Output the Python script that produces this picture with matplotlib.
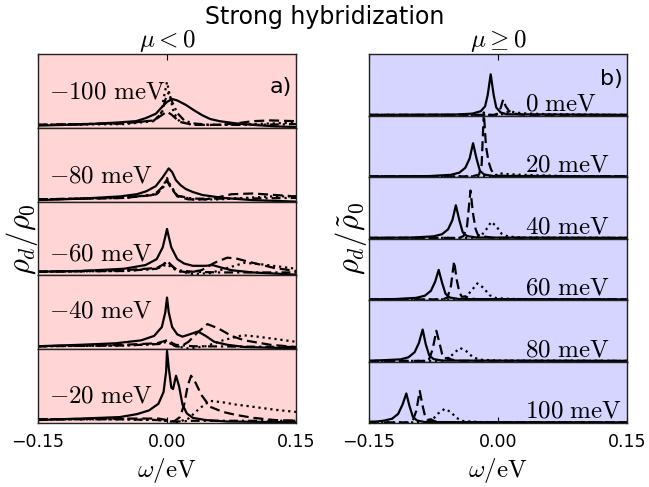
import numpy as np
import matplotlib
matplotlib.use('Agg')
import matplotlib.pyplot as plt

plt.rcParams['mathtext.fontset'] = 'cm'

# detuning of each stacked curve (meV)
neg_levels = [-100, -80, -60, -40, -20]
pos_levels = [0, 20, 40, 60, 80, 100]
x_ticks = [-0.15, 0.0, 0.15]
x_ticklabels = ['\u22120.15', '0.00', '0.15']

# points (omega in eV, rho_d/rho_0 scaled to row height)
neg_solid = [
    [(-0.15, 0.03), (-0.10, 0.045), (-0.06, 0.07), (-0.036, 0.09), (-0.025, 0.13), (-0.013, 0.19),
     (-0.006, 0.28), (0.0, 0.35), (0.006, 0.39), (0.012, 0.37), (0.022, 0.31), (0.031, 0.24),
     (0.041, 0.17), (0.05, 0.12), (0.061, 0.09), (0.08, 0.06), (0.10, 0.04), (0.125, 0.02), (0.15, 0.01)],
    [(-0.15, 0.02), (-0.10, 0.04), (-0.055, 0.07), (-0.035, 0.10), (-0.024, 0.14), (-0.013, 0.21),
     (-0.005, 0.33), (0.002, 0.45), (0.006, 0.40), (0.0104, 0.29), (0.016, 0.22), (0.022, 0.17),
     (0.03, 0.13), (0.041, 0.09), (0.065, 0.05), (0.10, 0.02), (0.15, 0.0)],
    [(-0.15, 0.05), (-0.10, 0.06), (-0.05, 0.09), (-0.025, 0.14), (-0.012, 0.22), (-0.005, 0.38),
     (-0.0015, 0.55), (0.0, 0.63), (0.0015, 0.55), (0.005, 0.38), (0.012, 0.22), (0.02, 0.16),
     (0.03, 0.13), (0.045, 0.13), (0.053, 0.14), (0.062, 0.11), (0.075, 0.07), (0.10, 0.04), (0.15, 0.01)],
    [(-0.15, 0.04), (-0.10, 0.06), (-0.06, 0.08), (-0.03, 0.12), (-0.015, 0.18), (-0.006, 0.30),
     (-0.002, 0.50), (0.0, 0.70), (0.002, 0.50), (0.006, 0.30), (0.012, 0.20), (0.018, 0.17),
     (0.026, 0.20), (0.036, 0.24), (0.045, 0.18), (0.055, 0.10), (0.07, 0.06), (0.09, 0.03), (0.15, 0.01)],
    [(-0.15, 0.04), (-0.10, 0.06), (-0.055, 0.08), (-0.035, 0.12), (-0.021, 0.17), (-0.01, 0.26),
     (-0.004, 0.42), (-0.001, 0.70), (0.0, 0.98), (0.002, 0.75), (0.005, 0.48), (0.007, 0.46),
     (0.0105, 0.64), (0.014, 0.50), (0.018, 0.25), (0.023, 0.13), (0.03, 0.07), (0.045, 0.04),
     (0.07, 0.02), (0.15, 0.01)],
]
neg_dashed = [
    [(-0.15, 0.04), (-0.05, 0.06), (-0.015, 0.10), (-0.005, 0.18), (0.0, 0.22), (0.005, 0.18),
     (0.015, 0.08), (0.03, 0.04), (0.06, 0.04), (0.08, 0.06), (0.10, 0.09), (0.12, 0.10), (0.15, 0.09)],
    [(-0.15, 0.03), (-0.05, 0.05), (-0.015, 0.09), (-0.005, 0.20), (0.0, 0.30), (0.004, 0.20),
     (0.012, 0.07), (0.025, 0.03), (0.045, 0.03), (0.06, 0.06), (0.075, 0.10), (0.10, 0.11),
     (0.125, 0.09), (0.15, 0.07)],
    [(-0.15, 0.05), (-0.05, 0.07), (-0.012, 0.10), (-0.004, 0.15), (0.0, 0.20), (0.004, 0.15),
     (0.012, 0.06), (0.025, 0.04), (0.04, 0.07), (0.055, 0.17), (0.07, 0.24), (0.08, 0.23),
     (0.10, 0.17), (0.125, 0.10), (0.15, 0.06)],
    [(-0.15, 0.04), (-0.05, 0.06), (-0.012, 0.08), (0.0, 0.12), (0.008, 0.05), (0.015, 0.03),
     (0.025, 0.10), (0.035, 0.22), (0.047, 0.34), (0.06, 0.28), (0.075, 0.18), (0.09, 0.12),
     (0.12, 0.06), (0.15, 0.03)],
    [(-0.15, 0.05), (-0.05, 0.06), (-0.01, 0.06), (0.0, 0.04), (0.008, 0.02), (0.015, 0.08),
     (0.02, 0.25), (0.024, 0.50), (0.028, 0.64), (0.033, 0.55), (0.04, 0.38), (0.05, 0.22),
     (0.065, 0.15), (0.08, 0.11), (0.10, 0.07), (0.125, 0.04), (0.15, 0.03)],
]
neg_dotted = [
    [(-0.15, 0.04), (-0.05, 0.05), (-0.015, 0.09), (-0.007, 0.20), (-0.003, 0.45), (0.0, 0.62),
     (0.003, 0.45), (0.008, 0.20), (0.015, 0.08), (0.03, 0.04), (0.06, 0.04), (0.10, 0.05), (0.15, 0.07)],
    [(-0.15, 0.03), (-0.05, 0.05), (-0.012, 0.10), (-0.004, 0.22), (0.0, 0.32), (0.004, 0.22),
     (0.012, 0.08), (0.03, 0.03), (0.06, 0.03), (0.09, 0.05), (0.12, 0.07), (0.15, 0.07)],
    [(-0.15, 0.05), (-0.05, 0.06), (-0.012, 0.09), (0.0, 0.15), (0.012, 0.06), (0.03, 0.02),
     (0.05, 0.03), (0.07, 0.10), (0.09, 0.17), (0.11, 0.15), (0.13, 0.12), (0.15, 0.09)],
    [(-0.15, 0.04), (-0.05, 0.05), (-0.01, 0.07), (0.0, 0.10), (0.01, 0.04), (0.025, 0.01),
     (0.045, 0.04), (0.065, 0.12), (0.088, 0.19), (0.105, 0.17), (0.125, 0.14), (0.15, 0.10)],
    [(-0.15, 0.05), (-0.05, 0.05), (-0.01, 0.04), (0.005, 0.02), (0.012, 0.01), (0.025, 0.06),
     (0.038, 0.20), (0.05, 0.30), (0.065, 0.28), (0.08, 0.25), (0.10, 0.22), (0.125, 0.18), (0.15, 0.15)],
]
neg_dashdot = [
    [(-0.15, 0.04), (-0.05, 0.06), (-0.015, 0.10), (-0.006, 0.20), (-0.002, 0.38), (0.002, 0.48),
     (0.006, 0.35), (0.012, 0.20), (0.02, 0.10), (0.03, 0.06), (0.05, 0.04), (0.10, 0.04), (0.15, 0.05)],
    [(-0.15, 0.03), (-0.05, 0.05), (-0.012, 0.10), (-0.004, 0.20), (0.0, 0.28), (0.004, 0.20),
     (0.012, 0.08), (0.03, 0.04), (0.08, 0.04), (0.15, 0.05)],
    [(-0.15, 0.05), (-0.05, 0.06), (-0.012, 0.09), (0.0, 0.18), (0.012, 0.07), (0.03, 0.05),
     (0.06, 0.04), (0.15, 0.04)],
    [(-0.15, 0.04), (-0.05, 0.05), (-0.01, 0.07), (0.0, 0.12), (0.01, 0.06), (0.03, 0.04), (0.15, 0.03)],
    [(-0.15, 0.05), (-0.05, 0.05), (-0.01, 0.04), (0.0, 0.03), (0.01, 0.02), (0.03, 0.03), (0.15, 0.03)],
]

pos_solid = [
    [(-0.15, 0.01), (-0.05, 0.015), (-0.03, 0.03), (-0.02, 0.07), (-0.015, 0.15), (-0.012, 0.33),
     (-0.0085, 0.67), (-0.005, 0.33), (-0.002, 0.13), (0.003, 0.05), (0.01, 0.02), (0.15, 0.01)],
    [(-0.15, 0.01), (-0.08, 0.015), (-0.055, 0.035), (-0.045, 0.07), (-0.038, 0.15), (-0.033, 0.30),
     (-0.029, 0.55), (-0.025, 0.30), (-0.021, 0.10), (-0.016, 0.04), (-0.005, 0.015), (0.15, 0.01)],
    [(-0.15, 0.01), (-0.10, 0.015), (-0.075, 0.035), (-0.065, 0.07), (-0.058, 0.15), (-0.053, 0.30),
     (-0.049, 0.54), (-0.045, 0.30), (-0.041, 0.10), (-0.036, 0.04), (-0.025, 0.015), (0.15, 0.01)],
    [(-0.15, 0.01), (-0.12, 0.015), (-0.095, 0.035), (-0.085, 0.07), (-0.078, 0.15), (-0.073, 0.30),
     (-0.069, 0.49), (-0.065, 0.28), (-0.061, 0.10), (-0.056, 0.04), (-0.045, 0.015), (0.15, 0.01)],
    [(-0.15, 0.01), (-0.135, 0.02), (-0.113, 0.035), (-0.104, 0.07), (-0.097, 0.15), (-0.092, 0.30),
     (-0.0876, 0.52), (-0.084, 0.28), (-0.08, 0.10), (-0.075, 0.04), (-0.065, 0.015), (0.15, 0.01)],
    [(-0.15, 0.02), (-0.14, 0.025), (-0.132, 0.04), (-0.123, 0.07), (-0.116, 0.15), (-0.111, 0.30),
     (-0.1066, 0.48), (-0.103, 0.28), (-0.099, 0.10), (-0.094, 0.04), (-0.085, 0.015), (0.15, 0.01)],
]
pos_dashed = [
    [(-0.15, 0.01), (-0.005, 0.01), (0.0, 0.03), (0.003, 0.12), (0.006, 0.26), (0.009, 0.15),
     (0.013, 0.07), (0.02, 0.03), (0.03, 0.01), (0.15, 0.01)],
    [(-0.15, 0.01), (-0.03, 0.01), (-0.022, 0.04), (-0.019, 0.20), (-0.0165, 1.05), (-0.014, 0.50),
     (-0.011, 0.25), (-0.008, 0.12), (-0.005, 0.05), (0.0, 0.02), (0.15, 0.01)],
    [(-0.15, 0.01), (-0.045, 0.01), (-0.04, 0.04), (-0.036, 0.20), (-0.032, 0.78), (-0.029, 0.40),
     (-0.026, 0.15), (-0.023, 0.05), (-0.019, 0.06), (-0.015, 0.03), (-0.005, 0.01), (0.15, 0.01)],
    [(-0.15, 0.01), (-0.064, 0.01), (-0.059, 0.04), (-0.055, 0.20), (-0.051, 0.63), (-0.048, 0.33),
     (-0.045, 0.13), (-0.042, 0.05), (-0.038, 0.06), (-0.034, 0.03), (-0.024, 0.01), (0.15, 0.01)],
    [(-0.15, 0.01), (-0.085, 0.01), (-0.08, 0.04), (-0.076, 0.20), (-0.0717, 0.50), (-0.068, 0.30),
     (-0.065, 0.12), (-0.062, 0.05), (-0.058, 0.06), (-0.054, 0.03), (-0.044, 0.01), (0.15, 0.01)],
    [(-0.15, 0.01), (-0.104, 0.01), (-0.099, 0.04), (-0.095, 0.20), (-0.091, 0.52), (-0.088, 0.30),
     (-0.085, 0.12), (-0.082, 0.05), (-0.078, 0.06), (-0.074, 0.03), (-0.064, 0.01), (0.15, 0.01)],
]
pos_dotted = [
    [(-0.15, 0.01), (0.0, 0.01), (0.008, 0.03), (0.013, 0.07), (0.02, 0.05), (0.03, 0.035),
     (0.05, 0.025), (0.10, 0.015), (0.15, 0.01)],
    [(-0.15, 0.01), (-0.01, 0.01), (-0.003, 0.03), (0.002, 0.06), (0.008, 0.05), (0.02, 0.04),
     (0.04, 0.03), (0.08, 0.015), (0.15, 0.01)],
    [(-0.15, 0.01), (-0.03, 0.01), (-0.02, 0.04), (-0.014, 0.14), (-0.008, 0.27), (-0.002, 0.20),
     (0.004, 0.08), (0.012, 0.03), (0.03, 0.015), (0.15, 0.01)],
    [(-0.15, 0.01), (-0.045, 0.01), (-0.038, 0.04), (-0.031, 0.15), (-0.024, 0.27), (-0.017, 0.20),
     (-0.01, 0.08), (-0.002, 0.03), (0.02, 0.015), (0.15, 0.01)],
    [(-0.15, 0.01), (-0.065, 0.01), (-0.058, 0.04), (-0.051, 0.14), (-0.044, 0.22), (-0.037, 0.17),
     (-0.03, 0.08), (-0.022, 0.03), (0.0, 0.015), (0.15, 0.01)],
    [(-0.15, 0.01), (-0.084, 0.01), (-0.077, 0.04), (-0.07, 0.15), (-0.062, 0.23), (-0.055, 0.18),
     (-0.048, 0.08), (-0.04, 0.03), (-0.02, 0.015), (0.15, 0.01)],
]

fig = plt.figure(figsize=(6.49, 4.87), dpi=100)

top = 1 - 54 / 487.
bottom = 1 - 423 / 487.
width = 258 / 649.

dash_map = {'-': None, '--': (4.5, 2.2), ':': (1.0, 1.7), '-.': (4.0, 1.8, 1.0, 1.8)}


def panel(x0, levels, curves, styles, color, lab_x, lab_y, title, tag, tag_y):
    n = len(levels)
    h = (top - bottom) / n
    for i in range(n):
        ax = fig.add_axes([x0, top - (i + 1) * h, width, h])
        ax.set_facecolor(color)
        for c, ls in zip(curves, styles):
            w, r = np.array(c[i]).T
            line, = ax.plot(w, r, color='k', ls=ls, lw=1.6, clip_on=(r.max() <= 1))
            if dash_map[ls] is not None:
                line.set_dashes(dash_map[ls])
        ax.set_xlim(-0.15, 0.15)
        ax.set_ylim(0, 1)
        ax.set_yticks([])
        ax.set_xticks(x_ticks)
        ax.set_xticklabels(x_ticklabels)
        ax.tick_params(axis='x', direction='in', length=4, top=(i == 0), bottom=(i == n - 1),
                       labelbottom=(i == n - 1), labelsize=12.5, pad=7)
        for s in ax.spines.values():
            s.set_linewidth(1.0)
            s.set_color('#222222')
        ax.text(lab_x, lab_y[i], r'$%d\ \mathrm{meV}$' % levels[i], fontsize=18,
                ha='left', va='center')
        if i == 0:
            ax.set_title(title, fontsize=18, pad=1)
            ax.text(0.985, tag_y, tag, transform=ax.transAxes, fontsize=16, ha='right', va='center')
        if i == n - 1:
            ax.set_xlabel(r'$\omega/\mathrm{eV}$', fontsize=18, labelpad=4)


panel(38 / 649., neg_levels, [neg_solid, neg_dashed, neg_dotted, neg_dashdot],
      ['-', '--', ':', '-.'], '#ffd5d5', -0.137, [0.49, 0.36, 0.30, 0.53, 0.37],
      r'$\mu<0$', 'a)', 0.55)
panel(369 / 649., pos_levels, [pos_solid, pos_dashed, pos_dotted],
      ['-', '--', ':'], '#d5d5ff', 0.031, [0.2] * 6,
      r'$\mu\geq0$', 'b)', 0.6)

fig.text(22 / 649., 0.51, r'$\rho_d/\rho_0$', rotation=90, fontsize=22, ha='center', va='center')
fig.text(351 / 649., 0.51, r'$\rho_d/\tilde{\rho}_0$', rotation=90, fontsize=22, ha='center', va='center')
fig.suptitle('Strong hybridization', fontsize=17, y=0.99)

fig.savefig('out.png', dpi=100)
